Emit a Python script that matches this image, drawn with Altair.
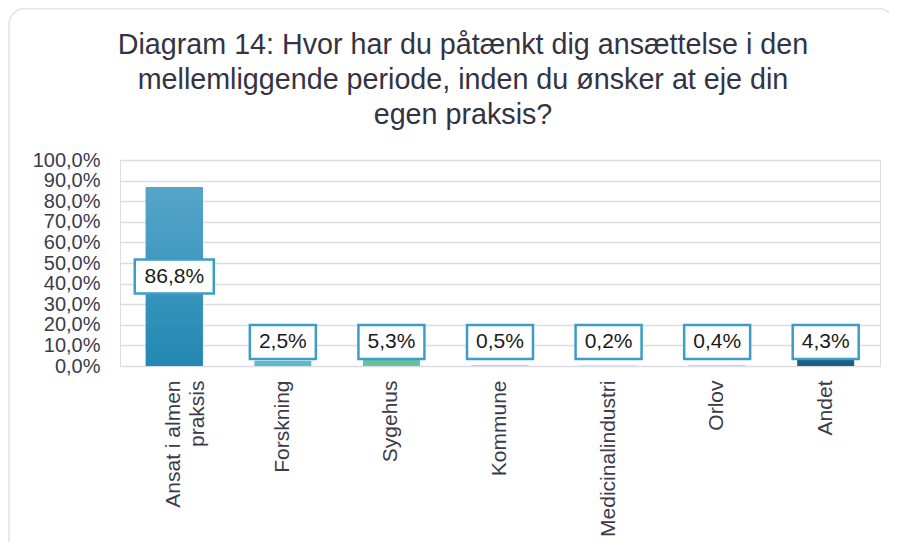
import altair as alt
import pandas as pd

categories = ["Ansat i almen praksis", "Forskning", "Sygehus", "Kommune",
              "Medicinalindustri", "Orlov", "Andet"]
values = [86.8, 2.5, 5.3, 0.5, 0.2, 0.4, 4.3]
bar_colors = ["#2a8db6", "#5bbcc8", "#6abf9e", "#b9cde0", "#b9cde0", "#b9cde0", "#1e5f7c"]
y_ticks = [0, 10, 20, 30, 40, 50, 60, 70, 80, 90, 100]

df = pd.DataFrame({"cat": categories, "value": values})

FONT = "Liberation Sans"
TXT = "#3b3b4b"

x_axis = alt.Axis(labelAngle=-90, labelFontSize=21, labelColor=TXT, labelFont=FONT,
                  labelPadding=14, ticks=False, domain=False, labelLimit=250,
                  labelLineHeight=24,
                  labelExpr="datum.label == 'Ansat i almen praksis' ? ['Ansat i almen', 'praksis'] : datum.label")
y_axis = alt.Axis(values=y_ticks, labelFontSize=20, labelColor=TXT, labelFont=FONT,
                  labelPadding=20, ticks=False, domain=False, labelOverlap=False,
                  gridColor="#dcdce6", gridWidth=1.5,
                  labelExpr="replace(format(datum.value / 100, '.1%'), '.', ',')")
x_scale = alt.Scale(domain=categories, paddingInner=0.47, paddingOuter=0.235)
y_scale = alt.Scale(domain=[0, 100], nice=False)


def X():
    return alt.X("cat:N", sort=categories, title=None, scale=x_scale, axis=x_axis)


def Y(field):
    return alt.Y(field, scale=y_scale, title=None, axis=y_axis)


base = alt.Chart(df)

frame = alt.Chart(pd.DataFrame({"k": [0]})).mark_rect(
    fill=None, stroke="#e2e2e8", strokeWidth=1.5, cornerRadius=16
).encode(x=alt.value(-111), x2=alt.value(774), y=alt.value(-151.5), y2=alt.value(430))

bars = base.mark_bar(width=57).encode(
    x=X(), y=Y("value:Q"),
    color=alt.Color("cat:N", scale=alt.Scale(domain=categories, range=bar_colors), legend=None),
)

grad_bar = base.transform_filter(alt.datum.value > 50).mark_bar(
    width=57,
    color=alt.Gradient(gradient="linear",
                       stops=[alt.GradientStop(color="#56a5c9", offset=0),
                              alt.GradientStop(color="#2288b2", offset=1)],
                       x1=0, x2=0, y1=0, y2=1)
).encode(x=X(), y=Y("value:Q"))

lab = base.transform_calculate(
    ly="datum.value > 50 ? datum.value / 2 : 11.65",
    txt="replace(format(datum.value, '.1f'), '.', ',') + '%'"
)

box_small = lab.transform_filter(alt.datum.value <= 50).mark_rect(
    width=66, fill="white", stroke="#3d9dc6", strokeWidth=2.5, yOffset=-17, y2Offset=17
).encode(x=X(), y=Y("ly:Q"), y2="ly:Q")

box_big = lab.transform_filter(alt.datum.value > 50).mark_rect(
    width=79, fill="white", stroke="#3d9dc6", strokeWidth=2.5, yOffset=-17, y2Offset=17
).encode(x=X(), y=Y("ly:Q"), y2="ly:Q")

texts = lab.mark_text(fontSize=21, font=FONT, color="#1a1a1a", baseline="middle", align="center").encode(
    x=X(), y=Y("ly:Q"), text="txt:N"
)

chart = alt.layer(frame, bars, grad_bar, box_small, box_big, texts).properties(
    width=760, height=206,
    padding={"left": 112, "top": 152, "right": 9, "bottom": 176},
    autosize="none",
    title=alt.TitleParams(
        text=["Diagram 14: Hvor har du påtænkt dig ansættelse i den",
              "mellemliggende periode, inden du ønsker at eje din",
              "egen praksis?"],
        fontSize=28.7, font=FONT, fontWeight="normal", color="#333344",
        lineHeight=35, anchor="middle", frame="group", dx=-37, offset=-122),
).configure_view(stroke=None).configure(background="white")

chart.save("out.html", embed_options={"renderer": "svg", "actions": False})
